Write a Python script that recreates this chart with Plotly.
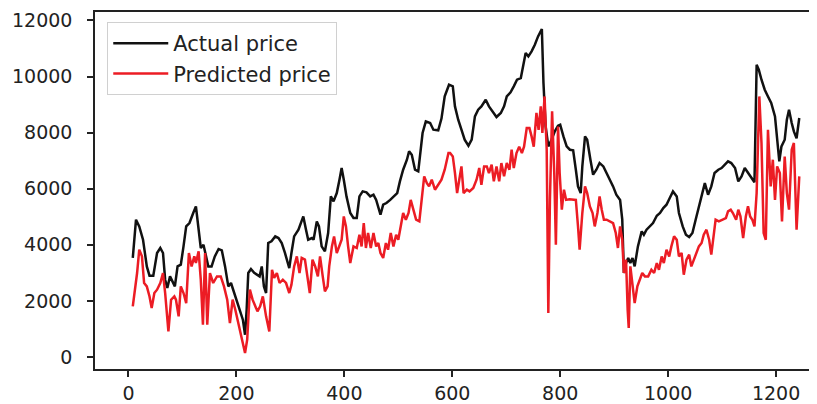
import plotly.graph_objects as go

actual_x = [8,14,20,27,34,39,46,53,59,64,68,72,77,82,86,91,97,102,107,113,117,120,125,130,134,139,144,148,154,160,167,173,179,185,190,194,201,207,212,216,219,222,227,233,238,243,247,251,255,259,265,272,278,284,290,298,302,307,315,319,324,329,333,340,343,349,353,358,364,370,375,380,386,391,395,399,404,411,417,423,428,434,441,448,454,459,463,467,472,478,485,492,498,503,509,516,520,525,531,537,541,545,551,559,565,574,580,586,594,601,605,611,617,623,630,636,642,648,654,662,668,676,682,690,696,701,708,714,720,727,731,736,741,747,753,759,766,769,773,778,784,790,796,800,806,812,818,824,829,833,838,841,846,850,856,861,867,873,880,886,892,898,904,911,915,918,922,926,930,934,938,944,951,955,960,966,972,979,985,991,997,1003,1009,1016,1020,1027,1033,1039,1045,1051,1057,1064,1068,1074,1080,1086,1093,1099,1105,1111,1117,1124,1130,1136,1142,1148,1154,1160,1164,1168,1173,1179,1185,1191,1198,1202,1206,1210,1216,1220,1224,1229,1233,1238,1243]
actual_price = [3530,4895,4656,4180,3230,2900,2900,3708,3886,3708,2756,2460,2874,2638,2518,3230,3290,3943,4656,4775,5013,5133,5370,4420,3886,4004,3586,3230,3230,3586,3850,3800,3230,2518,2638,2400,2043,1686,1330,795,1686,2994,3137,3000,2934,2874,3230,2518,2280,4064,4123,4300,4242,4064,3708,3172,3708,4300,4538,4775,5013,4538,4180,4240,4180,4834,4656,3943,3765,4420,5726,5548,5845,6321,6737,6321,5726,5133,4955,4955,5726,5904,5870,5726,5785,5600,5311,5073,5430,5490,5600,5726,5845,6262,6677,7034,7330,7210,6677,6617,7270,7986,8400,8340,8103,8080,8500,9290,9708,9650,8934,8460,8103,7747,7533,7747,8578,8816,8934,9173,8934,8700,8556,8700,8934,9290,9434,9650,9886,9945,10303,10838,10720,10897,11134,11430,11693,9768,8220,7508,7747,8043,8245,8280,7865,7508,7390,7370,6677,6082,5845,6795,7865,7747,7034,6500,6677,6915,6795,6560,6321,6082,5785,5600,4895,2994,3350,3530,3350,3530,3230,3943,4478,4360,4538,4656,4775,5037,5133,5311,5430,5667,5904,5726,5133,4656,4360,4280,4420,4895,5370,5845,6200,5785,6082,6560,6677,6737,6855,6975,6915,6737,6262,6440,6737,6560,6380,6230,10420,10240,9886,9530,9290,9055,8578,7747,6975,7508,7747,8460,8816,8340,8043,7800,8520]

predicted_x = [8,16,20,25,29,34,39,43,48,53,59,64,68,74,79,85,88,93,97,102,107,112,117,122,125,130,134,138,142,146,151,157,164,171,177,183,188,193,198,202,207,212,216,220,225,230,235,239,244,249,255,261,266,270,275,280,286,292,298,302,307,312,317,321,327,331,336,341,346,351,355,360,364,369,372,377,381,386,391,395,399,403,407,411,417,423,428,432,436,440,444,449,454,459,463,467,472,477,481,486,491,496,500,504,509,514,519,523,528,533,539,543,548,553,557,562,568,574,580,586,593,596,601,605,609,613,617,621,627,632,639,645,650,654,659,664,668,673,677,682,687,691,696,701,706,710,714,719,724,729,733,738,743,747,751,756,760,764,767,771,775,778,781,785,789,792,796,799,803,807,811,817,823,829,833,836,841,846,850,855,860,864,869,873,877,881,886,892,898,903,907,911,915,918,922,925,927,930,934,938,943,948,952,957,963,969,974,979,983,988,992,997,1002,1006,1011,1016,1020,1025,1029,1034,1039,1043,1048,1053,1057,1062,1066,1071,1076,1080,1085,1088,1094,1101,1107,1111,1116,1120,1126,1130,1134,1139,1144,1148,1152,1156,1160,1164,1169,1173,1177,1181,1185,1190,1194,1198,1202,1207,1211,1216,1220,1224,1229,1233,1238,1243]
predicted_price = [1804,2994,3825,3590,2638,2518,2160,1746,2280,2400,2638,2994,2280,913,2043,2160,2043,1450,2518,2280,1923,3708,3230,3586,3350,3765,2756,1151,3708,1151,2994,2638,2874,2874,2518,2043,1210,2043,1686,1330,973,499,143,620,2400,2043,1804,1626,1804,2160,1450,913,3110,2816,2994,2638,2756,2638,2280,2580,3230,3586,2994,3530,3470,2994,2280,3470,3230,2874,3586,2874,2340,2518,3230,3943,4300,3708,3943,4180,5013,4656,3943,3350,3943,3886,4360,3943,4775,3886,4420,3886,4420,3943,4064,3708,3530,4064,3825,4420,3943,4360,4180,4656,5133,4895,5133,5600,5250,4895,4835,5600,6440,6200,6082,6321,5965,6140,6321,6677,7270,7270,7150,6560,5845,6321,6795,5845,5965,5904,6024,6321,6737,6140,6795,6795,6560,6855,6262,6795,6262,6915,6440,6915,6677,7390,6737,7270,7500,7270,7500,8160,8160,7865,7500,8700,8100,8934,7986,9290,7390,1568,5600,8756,6560,4004,8220,6560,5251,5965,5600,5620,5600,5600,4656,3825,5133,6082,5845,5370,5133,4656,5133,5726,5251,4895,4895,4835,4775,4420,3886,4656,4180,2994,3470,1686,1034,3230,2518,1923,2518,2756,2994,2874,2874,3110,2994,3350,3110,3586,3350,3825,3586,3943,4300,4180,3586,3708,2934,3470,3650,3230,3470,3708,3943,4064,4360,4538,4180,3650,4538,4895,4835,4895,4955,5190,5251,5133,4895,5251,5013,4242,5013,5370,5013,4895,4656,5845,9290,7630,4420,4180,8103,6082,7034,5600,6795,6560,4835,7150,5845,5251,7390,7630,4538,6440]

x_ticks = [0, 200, 400, 600, 800, 1000, 1200]
y_ticks = [0, 2000, 4000, 6000, 8000, 10000, 12000]

FONT = "DejaVu Sans"

fig = go.Figure()
fig.add_trace(go.Scatter(x=actual_x, y=actual_price, mode="lines", name="Actual price",
                         legendgroup="a", line=dict(color="#111111", width=2.5)))
fig.add_trace(go.Scatter(x=predicted_x, y=predicted_price, mode="lines", name="Predicted price",
                         legendgroup="p", line=dict(color="#ec1c24", width=2.5)))

axis_common = dict(showline=True, mirror=True, linecolor="#222222", linewidth=1.5,
                   ticks="outside", ticklen=6, tickwidth=1.5, tickcolor="#222222",
                   showgrid=False, zeroline=False, automargin=False, tickformat="d",
                   tickfont=dict(family=FONT, size=19, color="#222222"))

# page body has an 8px default margin, so the figure is sized/placed to compensate
fig.update_layout(
    width=809, height=396,
    margin=dict(l=87, r=1, t=4, b=35),
    paper_bgcolor="white", plot_bgcolor="white",
    font=dict(family=FONT),
    showlegend=True,
    legend=dict(x=0.017, y=0.972, xanchor="left", yanchor="top",
                bgcolor="white", bordercolor="#d0d0d0", borderwidth=1,
                font=dict(family=FONT, size=21, color="#222222"),
                itemwidth=55,
                traceorder="grouped", tracegroupgap=0),
    xaxis=dict(range=[-62, 1274], tickmode="array", tickvals=x_ticks,
               ticklabelstandoff=0, **axis_common),
    yaxis=dict(range=[-428, 12300], tickmode="array", tickvals=y_ticks,
               ticklabelstandoff=11, **axis_common),
)

fig.write_html("out.html")
